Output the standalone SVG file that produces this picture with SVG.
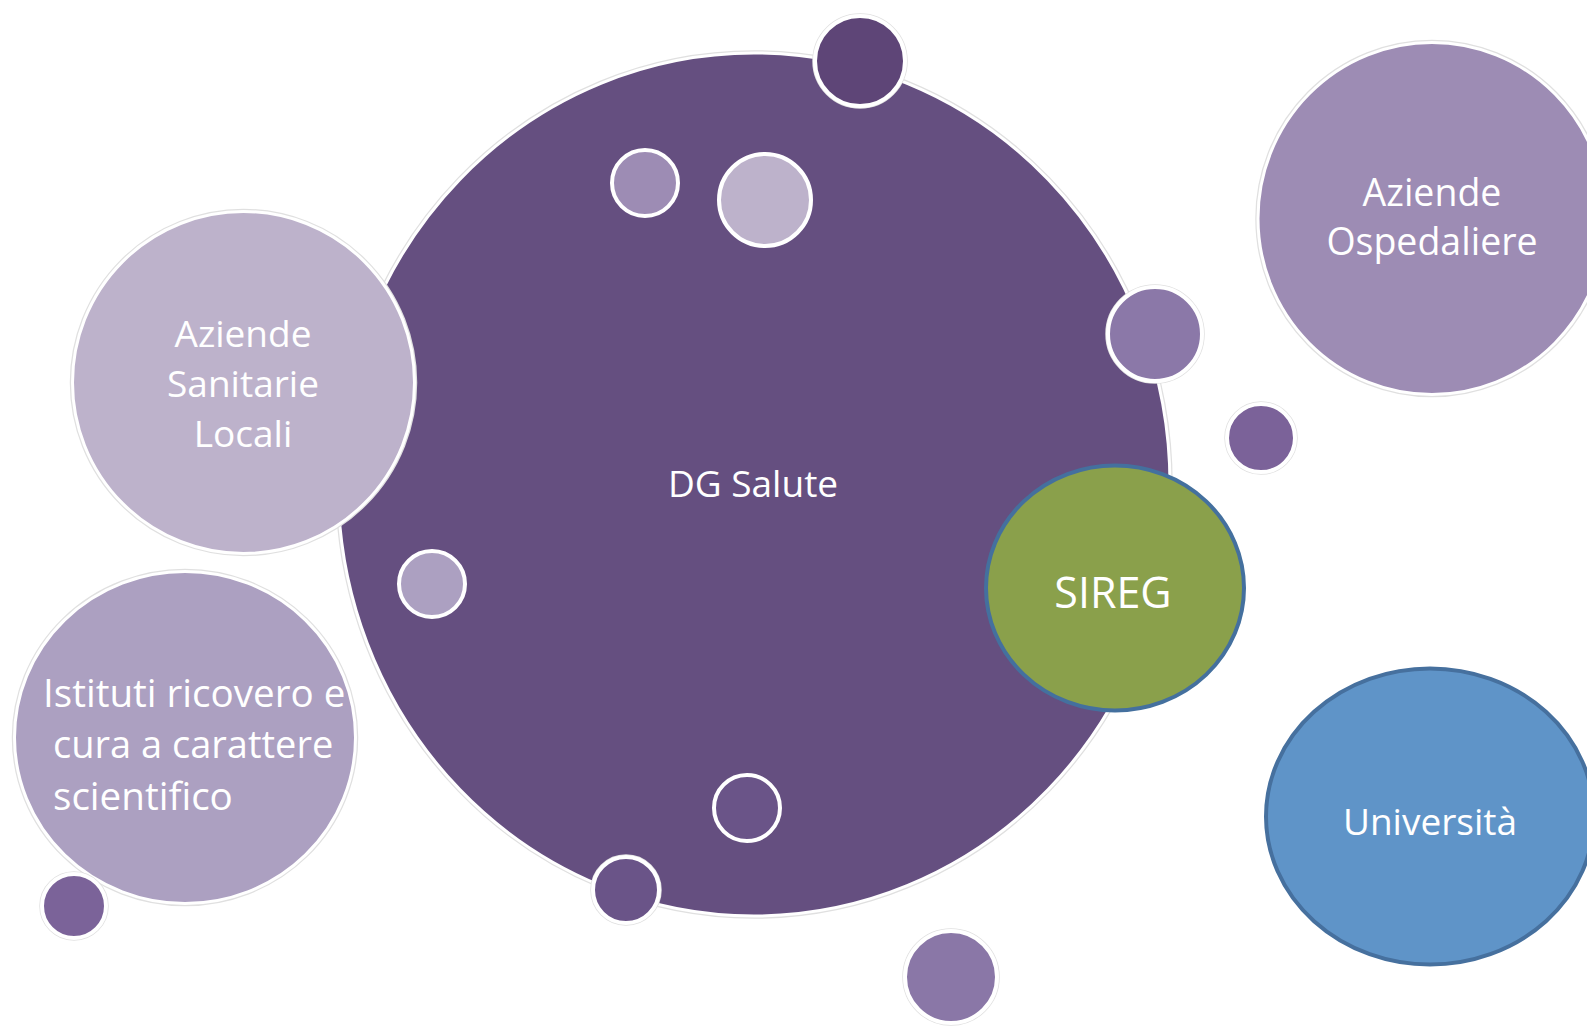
<svg xmlns="http://www.w3.org/2000/svg" width="1587" height="1027" viewBox="0 0 1587 1027">
<style>
.halo{fill:none;stroke:#e0e0e0;stroke-width:5.5}
.w{stroke:#ffffff;stroke-width:4}
.wt{stroke:#ffffff;stroke-width:3}
.lbl{font-family:"Open Sans","Noto Sans","DejaVu Sans",sans-serif;fill:#ffffff;font-size:37px}
.mid{text-anchor:middle}
</style>
<rect width="1587" height="1027" fill="#ffffff"/>
<g id="node-dg-salute">
<ellipse class="halo" cx="754" cy="484.5" rx="416" ry="431.5"/>
<ellipse class="wt" cx="754" cy="484.5" rx="416" ry="431.5" fill="#654f80"/>
<text class="lbl mid" x="753" y="497">DG Salute</text>
</g>
<g id="node-dot-top">
<circle class="halo" cx="860" cy="61" r="45"/>
<circle class="w" cx="860" cy="61" r="45" fill="#5e4577"/>
</g>
<g id="node-dot-inner-1">
<circle class="w" cx="645" cy="183" r="33" fill="#9d8cb4"/>
</g>
<g id="node-dot-inner-2">
<circle class="w" cx="765" cy="200" r="46" fill="#bdb2cb"/>
</g>
<g id="node-dot-inner-3">
<circle class="w" cx="432" cy="584" r="33" fill="#aca0c1"/>
</g>
<g id="node-dot-inner-4">
<circle class="w" cx="747" cy="808" r="33" fill="#6a5488"/>
</g>
<g id="node-dot-bottom">
<circle class="halo" cx="626" cy="890" r="33"/>
<circle class="w" cx="626" cy="890" r="33" fill="#6a5488"/>
</g>
<g id="node-dot-bottom-right">
<circle class="halo" cx="951" cy="977" r="46"/>
<circle class="w" cx="951" cy="977" r="46" fill="#8a77a7"/>
</g>
<g id="node-dot-right-1">
<circle class="halo" cx="1155" cy="334" r="47"/>
<circle class="w" cx="1155" cy="334" r="47" fill="#8b78a8"/>
</g>
<g id="node-dot-right-2">
<circle class="halo" cx="1261" cy="438" r="34"/>
<circle class="w" cx="1261" cy="438" r="34" fill="#7b6299"/>
</g>
<g id="node-asl">
<circle class="halo" cx="243.5" cy="382.5" r="171"/>
<circle class="wt" cx="243.5" cy="382.5" r="171" fill="#bdb2cb"/>
<text class="lbl mid" x="243" y="347">Aziende</text>
<text class="lbl mid" x="243" y="397">Sanitarie</text>
<text class="lbl mid" x="243" y="447">Locali</text>
</g>
<g id="node-irccs">
<ellipse class="halo" cx="185" cy="737.5" rx="170.5" ry="166"/>
<ellipse class="wt" cx="185" cy="737.5" rx="170.5" ry="166" fill="#aca0c1"/>
<text class="lbl" x="43" y="707" style="font-size:38.6px">Istituti ricovero e</text>
<text class="lbl" x="53" y="758" style="font-size:38px">cura a carattere</text>
<text class="lbl" x="53" y="810" style="font-size:38.6px">scientifico</text>
</g>
<g id="node-dot-left-bottom">
<circle class="halo" cx="74" cy="906" r="32"/>
<circle class="w" cx="74" cy="906" r="32" fill="#7b6399"/>
</g>
<g id="node-ao">
<ellipse class="halo" cx="1432" cy="218.5" rx="174" ry="176"/>
<ellipse class="wt" cx="1432" cy="218.5" rx="174" ry="176" fill="#9d8cb4"/>
<text class="lbl mid" x="1432" y="206" style="font-size:37.5px">Aziende</text>
<text class="lbl mid" x="1432" y="255" style="font-size:37.5px">Ospedaliere</text>
</g>
<g id="node-universita">
<ellipse cx="1430" cy="816.5" rx="164" ry="148" fill="#5f94c8" stroke="#46709e" stroke-width="4"/>
<text class="lbl mid" x="1430" y="835">Università</text>
</g>
<g id="node-sireg">
<ellipse cx="1115" cy="588" rx="129" ry="122.5" fill="#8aa04b" stroke="#44709e" stroke-width="4"/>
<text class="lbl mid" x="1113" y="608" style="font-size:43px">SIREG</text>
</g>
<g id="connectors"/>
</svg>
